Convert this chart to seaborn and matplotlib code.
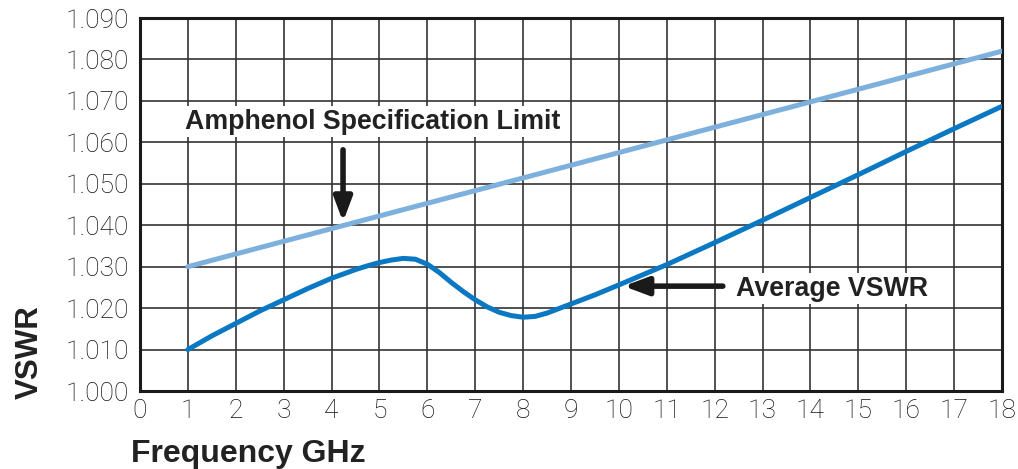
import pandas as pd
import matplotlib
matplotlib.use("Agg")
import matplotlib.pyplot as plt
import seaborn as sns

# Average VSWR
freq_avg = [1, 1.5, 2, 2.5, 3, 3.5, 4, 4.5, 4.75, 5, 5.25, 5.5, 5.75, 6, 6.25,
            6.5, 6.75, 7, 7.25, 7.5, 7.75, 8, 8.25, 8.5, 9, 9.5, 10, 11, 12,
            13, 14, 15, 16, 17, 18]
vswr_avg = [1.0100, 1.0133, 1.0163, 1.0193, 1.0220, 1.0247, 1.0272, 1.0293,
            1.0302, 1.0310, 1.0316, 1.0320, 1.0318, 1.0306, 1.0286, 1.0262,
            1.0240, 1.0220, 1.0203, 1.0190, 1.0182, 1.0178, 1.0180, 1.0188,
            1.0210, 1.0232, 1.0256, 1.0305, 1.0358, 1.0412, 1.0467, 1.0522,
            1.0578, 1.0633, 1.0687]

# spec limit is a straight line
freq_spec = [1, 18]
vswr_spec = [1.030, 1.082]

x_ticks = list(range(0, 19))
y_ticks = [1.000, 1.010, 1.020, 1.030, 1.040, 1.050, 1.060, 1.070, 1.080, 1.090]
y_labels = ['{:.3f}'.format(v) for v in y_ticks]

df_avg = pd.DataFrame({'Frequency': freq_avg, 'VSWR': vswr_avg})
df_spec = pd.DataFrame({'Frequency': freq_spec, 'VSWR': vswr_spec})

sns.set_style("white")
plt.rcParams['font.family'] = ['Liberation Sans', 'DejaVu Sans']

fig = plt.figure(figsize=(10.18, 4.69), dpi=100)
ax = fig.add_axes([0.1375, 0.1663, 0.9843 - 0.1375, 0.9616 - 0.1663])

sns.lineplot(x='Frequency', y='VSWR', data=df_spec, color='#7eb0de', lw=3.6,
             ax=ax, zorder=3)
sns.lineplot(x='Frequency', y='VSWR', data=df_avg, color='#0a78c2', lw=3.6,
             ax=ax, zorder=4)
for ln in ax.lines:
    ln.set_solid_joinstyle('round')

ax.set_xlim(0, 18)
ax.set_ylim(1.000, 1.090)
ax.set_xticks(x_ticks)
ax.set_yticks(y_ticks)
ax.set_yticklabels(y_labels)
ax.grid(True, color='#333333', lw=1.2)
ax.set_axisbelow(True)
for s in ax.spines.values():
    s.set_color('#1a1a1a')
    s.set_linewidth(2.2)
ax.tick_params(axis='both', length=0, labelsize=19, colors='#111111')
ax.tick_params(axis='y', pad=8)
ax.tick_params(axis='x', pad=6)
for lab in ax.get_xticklabels() + ax.get_yticklabels():
    lab.set_family(['Roboto', 'Liberation Sans'])
    lab.set_fontweight('light')
ax.set_xlabel('')
ax.set_ylabel('')

fig.text(0.029, 0.25, 'VSWR', rotation=90, fontsize=22.5, fontweight='bold',
         color='#222222', ha='center', va='center')
fig.text(0.129, 0.033, 'Frequency GHz', fontsize=23, fontweight='bold',
         color='#222222', ha='left', va='center')

bbox = dict(facecolor='white', edgecolor='none', pad=1.5)
ax.text(0.95, 1.0650, 'Amphenol Specification Limit', fontsize=19.3,
        fontweight='bold', color='#222222', ha='left', va='center', bbox=bbox,
        zorder=5)
ax.text(12.45, 1.0247, 'Average VSWR', fontsize=19.3, fontweight='bold',
        color='#222222', ha='left', va='center', bbox=bbox, zorder=5)

arrow = dict(arrowstyle='-|>,head_length=0.72,head_width=0.27', color='#1a1a1a',
             lw=4.0, shrinkA=0, shrinkB=0, mutation_scale=20)
ax.annotate('', xy=(4.24, 1.0408), xytext=(4.24, 1.0582), arrowprops=arrow,
            zorder=6)
ax.annotate('', xy=(10.1, 1.0253), xytext=(12.17, 1.0253), arrowprops=arrow,
            zorder=6)

fig.savefig('out.png', dpi=100)
